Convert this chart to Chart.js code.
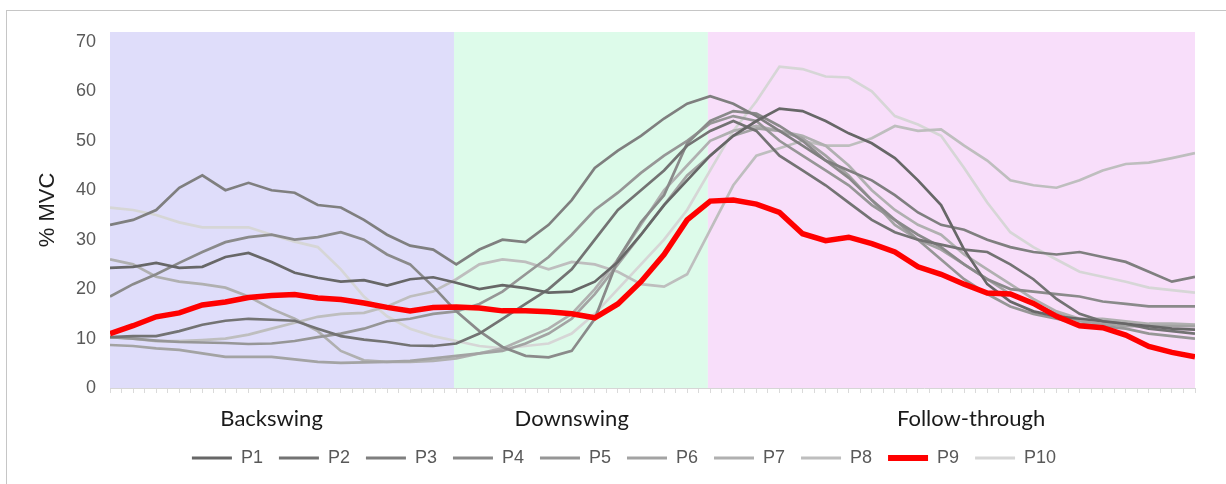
<!DOCTYPE html>
<html>
<head>
<meta charset="utf-8">
<script src="https://cdn.jsdelivr.net/npm/chart.js@4.4.1/dist/chart.umd.min.js"></script>
<style>
  html, body { margin: 0; padding: 0; background: #fff; }
  #wrap { position: relative; width: 1226px; height: 484px; }
  #frame { position: absolute; left: 6px; top: 10px; right: 0; bottom: 0;
           border-top: 1px solid #c6c6c6; border-left: 1px solid #c6c6c6; pointer-events: none; }
</style>
</head>
<body>
<div id="wrap"><canvas id="myChart"></canvas><div id="frame"></div></div>
<script>
// normalised swing time (frames)
var frames = [0, 1, 2, 3, 4, 5, 6, 7, 8, 9, 10, 11, 12, 13, 14, 15, 16, 17, 18, 19, 20, 21, 22, 23,
              24, 25, 26, 27, 28, 29, 30, 31, 32, 33, 34, 35, 36, 37, 38, 39, 40, 41, 42, 43, 44, 45, 46, 47];
var yTicks = [0, 10, 20, 30, 40, 50, 60, 70];

var p1 = [24.3, 24.5, 25.3, 24.3, 24.5, 26.5, 27.3, 25.5, 23.3, 22.3, 21.5, 21.8, 20.7, 22.0, 22.4, 21.3,
          20.0, 20.8, 20.2, 19.3, 19.5, 21.5, 25.5, 31.0, 37.0, 42.0, 47.0, 51.0, 54.0, 56.5, 56.0, 54.0,
          51.5, 49.5, 46.5, 42.0, 37.0, 28.0, 21.0, 17.5, 15.5, 14.5, 14.0, 13.5, 13.0, 12.5, 12.0, 11.8];
var p2 = [10.3, 10.5, 10.5, 11.5, 12.8, 13.6, 14.0, 13.8, 13.6, 12.0, 10.5, 9.8, 9.3, 8.6, 8.5, 9.0,
          11.0, 14.0, 17.0, 20.0, 24.0, 30.0, 36.0, 40.0, 44.0, 49.0, 52.0, 54.0, 52.0, 47.0, 44.0, 41.0,
          37.5, 34.0, 31.5, 30.0, 29.0, 28.0, 27.5, 25.0, 22.0, 18.0, 15.0, 13.5, 13.0, 12.0, 11.5, 11.0];
var p3 = [33.0, 34.0, 36.0, 40.5, 43.0, 40.0, 41.5, 40.0, 39.5, 37.0, 36.5, 34.0, 31.0, 28.8, 28.0, 25.0,
          28.0, 30.0, 29.5, 33.0, 38.0, 44.5, 48.0, 51.0, 54.5, 57.5, 59.0, 57.5, 55.0, 52.0, 49.0, 46.0,
          44.0, 42.0, 39.0, 35.5, 33.0, 32.0, 30.0, 28.5, 27.5, 27.0, 27.5, 26.5, 25.5, 23.5, 21.5, 22.5];
var p4 = [18.5, 21.0, 23.0, 25.3, 27.5, 29.5, 30.5, 31.0, 30.0, 30.5, 31.5, 30.0, 27.0, 25.0, 20.5, 15.5,
          11.5, 8.3, 6.5, 6.2, 7.5, 14.0, 26.0, 33.5, 39.0, 49.5, 54.0, 56.0, 55.5, 53.0, 50.0, 46.0,
          42.5, 38.0, 34.0, 31.0, 28.5, 25.0, 22.0, 20.0, 19.5, 19.0, 18.5, 17.5, 17.0, 16.5, 16.5, 16.5];
var p5 = [10.3, 10.0, 9.6, 9.3, 9.2, 9.1, 8.9, 9.0, 9.5, 10.3, 11.0, 12.0, 13.5, 14.0, 15.0, 15.5,
          17.0, 19.5, 23.0, 26.5, 31.0, 36.0, 39.5, 43.5, 47.0, 50.0, 53.5, 55.0, 54.0, 50.0, 47.0, 44.0,
          41.0, 37.0, 34.0, 30.0, 26.0, 22.0, 19.0, 16.5, 15.0, 14.0, 13.0, 12.5, 12.0, 11.0, 10.5, 10.0];
var p6 = [8.7, 8.5, 8.0, 7.7, 7.0, 6.3, 6.3, 6.3, 5.8, 5.3, 5.1, 5.2, 5.3, 5.5, 6.0, 6.5,
          7.0, 7.5, 9.0, 11.0, 14.0, 19.0, 25.0, 31.0, 37.0, 43.0, 47.0, 51.0, 52.5, 52.0, 50.5, 47.0,
          43.0, 38.0, 33.0, 30.0, 28.0, 25.0, 22.0, 19.0, 17.0, 15.0, 13.5, 13.0, 12.5, 12.5, 12.5, 12.5];
var p7 = [26.0, 25.0, 22.5, 21.5, 21.0, 20.3, 18.5, 16.0, 14.0, 11.5, 7.5, 5.6, 5.3, 5.3, 5.5, 6.0,
          7.0, 8.0, 10.0, 12.0, 15.0, 20.0, 26.0, 33.0, 40.0, 45.0, 50.0, 52.0, 53.0, 52.0, 51.0, 49.0,
          45.0, 40.0, 36.0, 33.0, 31.0, 27.0, 24.0, 21.0, 18.0, 15.5, 14.0, 14.0, 13.5, 13.0, 13.0, 12.8];
var p8 = [10.3, 10.0, 9.5, 9.5, 9.7, 10.0, 10.8, 12.0, 13.2, 14.4, 15.0, 15.2, 16.5, 18.5, 19.5, 22.0,
          25.0, 26.0, 25.5, 24.0, 25.5, 25.0, 23.5, 21.0, 20.5, 23.0, 32.0, 41.0, 47.0, 48.5, 50.0, 49.0,
          49.0, 50.5, 53.0, 52.0, 52.3, 49.0, 46.0, 42.0, 41.0, 40.5, 42.0, 44.0, 45.3, 45.6, 46.5, 47.5];
var p9 = [11.0, 12.6, 14.4, 15.2, 16.8, 17.4, 18.3, 18.7, 18.9, 18.2, 17.9, 17.2, 16.3, 15.6, 16.3, 16.4,
          16.2, 15.6, 15.6, 15.4, 15.0, 14.2, 17.0, 21.5, 27.0, 34.0, 37.8, 38.0, 37.2, 35.5, 31.2, 29.8,
          30.5, 29.2, 27.5, 24.5, 23.0, 21.0, 19.2, 19.0, 17.1, 14.5, 12.6, 12.2, 10.7, 8.4, 7.2, 6.3];
var p10 = [36.5, 36.0, 35.0, 33.5, 32.5, 32.5, 32.5, 31.0, 29.6, 28.5, 24.0, 18.5, 14.5, 12.0, 10.5, 9.5,
           8.5, 8.0, 8.5, 9.0, 11.0, 15.0, 20.0, 25.0, 30.0, 36.0, 44.0, 52.0, 58.0, 65.0, 64.5, 63.0,
           62.8, 60.0, 55.0, 53.3, 51.0, 44.5, 37.5, 31.5, 28.5, 26.0, 23.5, 22.5, 21.5, 20.3, 19.8, 19.3];

var seriesNames = ['P1', 'P2', 'P3', 'P4', 'P5', 'P6', 'P7', 'P8', 'P9', 'P10'];
var series = [p1, p2, p3, p4, p5, p6, p7, p8, p9, p10];

// swing phases, in frames
var phases = ['Backswing', 'Downswing', 'Follow-through'];
var phaseStart = [0, 14.9, 25.9];
var phaseEnd = [14.9, 25.9, 47];

var lineColors = ['#676767', '#737373', '#7f7f7f', '#8a8a8a', '#969696', '#a3a3a3',
                  '#b0b0b0', '#bebebe', '#ff0000', '#d6d6d6'];
var phaseColors = ['#dfddfa', '#ddfbea', '#f8defa'];
var phaseLabelAt = [7.0, 20.0, 37.3];

Chart.defaults.font.family = "'Liberation Sans', Arial, sans-serif";

var phasePlugin = {
    id: 'phases',
    beforeDraw: function (chart) {
        var c = chart.ctx, area = chart.chartArea, x = chart.scales.x;
        c.save();
        for (var k = 0; k < phases.length; k++) {
            var x0 = x.getPixelForValue(phaseStart[k]);
            var x1 = x.getPixelForValue(phaseEnd[k]);
            c.fillStyle = phaseColors[k];
            c.fillRect(x0, area.top, x1 - x0, area.bottom - area.top);
        }
        c.restore();
    },
    afterDraw: function (chart) {
        var c = chart.ctx, area = chart.chartArea, x = chart.scales.x;
        c.save();
        c.font = '22px Lato';
        c.fillStyle = '#1a1a1a';
        c.textAlign = 'center';
        c.textBaseline = 'middle';
        for (var k = 0; k < phases.length; k++) {
            c.fillText(phases[k], x.getPixelForValue(phaseLabelAt[k]), area.bottom + 31);
        }
        c.restore();
    }
};

var datasets = seriesNames.map(function (name, i) {
    var red = name === 'P9';
    return {
        label: name,
        data: series[i],
        borderColor: lineColors[i],
        backgroundColor: lineColors[i],
        borderWidth: red ? 5.5 : 2.7,
        pointRadius: 0,
        pointStyle: 'line',
        pointBorderColor: lineColors[i],
        pointBorderWidth: red ? 6 : 3,
        tension: 0,
        order: red ? 0 : 1
    };
});

var ctx = document.getElementById('myChart').getContext('2d');
var myChart = new Chart(ctx, {
    type: 'line',
    data: { labels: frames, datasets: datasets },
    options: {
        responsive: true,
        maintainAspectRatio: false,
        animation: false,
        layout: { padding: { left: 53, right: 31, top: 32, bottom: 7 } },
        plugins: {
            legend: {
                position: 'bottom',
                labels: {
                    usePointStyle: true,
                    pointStyleWidth: 40,
                    padding: 16,
                    color: '#595959',
                    font: { size: 18 },
                    sort: function (a, b) { return a.datasetIndex - b.datasetIndex; }
                }
            },
            tooltip: { enabled: false }
        },
        scales: {
            x: {
                type: 'linear',
                min: 0,
                max: 47,
                afterFit: function (s) { s.height = 45; },
                ticks: { display: false, stepSize: 0.5 },
                grid: { drawOnChartArea: false, drawTicks: true, tickLength: 5, color: '#dadada' },
                border: { color: '#d6d6d6' }
            },
            y: {
                min: 0,
                max: 72,
                afterFit: function (s) { s.width = 57; },
                afterBuildTicks: function (s) {
                    s.ticks = yTicks.map(function (v) { return { value: v }; });
                },
                ticks: { stepSize: 10, padding: 14, color: '#595959', font: { size: 18 } },
                grid: { display: false, drawTicks: false },
                border: { display: false },
                title: {
                    display: true,
                    text: '% MVC',
                    color: '#1e1e1e',
                    font: { size: 22 },
                    padding: { top: -18, bottom: 0 }
                }
            }
        }
    },
    plugins: [phasePlugin]
});
</script>
</body>
</html>
